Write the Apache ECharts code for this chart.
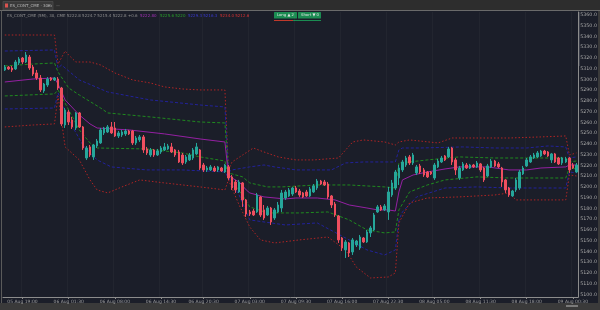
<!DOCTYPE html>
<html><head><meta charset="utf-8">
<script src="https://cdn.jsdelivr.net/npm/echarts@6/dist/echarts.min.js"></script>
<style>html,body{margin:0;padding:0;background:#1b1e29;}#c{width:600px;height:310px;}</style>
</head><body><div id="c"></div>
<script>
// ---- candle data (price) ----
const open = [5311.2,5313.9,5313.0,5312.1,5317.7,5322.3,5318.6,5323.2,5313.9,5308.4,5303.7,5291.7,5297.2,5303.7,5301.9,
5302.8,5294.4,5260.0,5272.1,5264.7,5257.2,5271.2,5258.2,5229.3,5239.6,5230.3,5240.5,5243.3,5252.6,5253.5,5258.2,5257.2,5249.8,5250.7,5251.7,5254.4,5254.4,5243.3,5246.1,5248.9,5237.7,5232.1,5236.8,5232.1,5234.9,5236.8,5237.7,5239.6,5236.8,5234.9,5232.1,5225.6,5227.5,5229.3,5233.1,5236.8,5222.8,5218.2,5218.2,5220.0,5218.2,5220.0,5216.3,
5221.0,5211.7,5207.0,5197.7,5206.1,5190.3,5179.1,5180.0,5179.1,5193.1,5181.0,5176.3,5182.8,5173.5,5179.1,5182.8,5192.1,5194.0,5195.8,5201.4,5198.6,5196.8,5197.7,5194.0,5197.7,5201.4,5207.9,5207.0,5205.1,5194.0,5186.5,5175.4,5154.9,5143.8,5150.3,5141.9,5148.4,5145.6,5154.9,5151.2,5159.6,5162.4,5179.1,5183.8,5181.0,5179.1,5194.9,5201.4,
5210.7,5218.2,5222.8,5230.3,5224.7,5215.4,5221.9,5218.2,5216.3,5216.3,5210.7,5221.0,5225.6,5231.2,5230.3,5238.6,5227.5,5210.7,5218.2,5222.8,5220.0,5222.8,5221.0,5223.8,5220.0,5212.6,5221.0,5226.5,5223.8,5220.0,5208.9,5201.4,5194.0,5199.6,5201.4,5214.5,5221.9,5225.6,5229.3,5230.3,5231.2,5235.8,5234.9,5227.5,5233.1,5229.3,5224.7,5225.6,
5229.3,5222.8,5216.3];
const close = [5313.9,5312.1,5311.2,5318.6,5321.4,5318.6,5325.1,5313.0,5307.4,5303.7,5292.6,5298.1,5302.8,5301.9,5303.7,
5294.4,5261.0,5274.0,5262.8,5258.2,5271.2,5258.2,5238.6,5238.6,5232.1,5241.4,5245.1,5255.4,5257.2,5258.2,5252.6,5249.8,5252.6,5253.5,5254.4,5251.7,5243.3,5247.9,5248.9,5236.8,5234.0,5236.8,5232.1,5235.8,5238.6,5239.6,5240.5,5234.9,5232.1,5225.6,5224.7,5230.3,5232.1,5236.8,5239.6,5220.0,5218.2,5220.0,5221.0,5217.2,5221.0,5217.2,5222.8,
5210.7,5201.4,5199.6,5207.0,5190.3,5177.2,5177.2,5176.3,5194.9,5176.3,5173.5,5182.8,5169.8,5181.0,5185.6,5196.8,5197.7,5199.6,5201.4,5197.7,5194.9,5193.1,5194.0,5200.5,5203.3,5207.9,5205.1,5204.2,5193.1,5185.6,5176.3,5153.1,5145.6,5151.2,5141.0,5153.1,5152.1,5155.8,5151.2,5160.5,5164.2,5176.3,5183.8,5181.0,5184.7,5197.7,5206.1,5216.3,
5220.0,5225.6,5229.3,5224.7,5232.1,5221.0,5216.3,5213.5,5211.7,5214.5,5222.8,5226.5,5229.3,5227.5,5237.7,5225.6,5218.2,5220.0,5223.8,5220.0,5222.8,5221.0,5224.7,5218.2,5208.9,5221.9,5226.5,5221.9,5221.0,5207.0,5199.6,5194.9,5198.6,5208.9,5216.3,5220.0,5227.5,5230.3,5232.1,5234.0,5235.8,5233.1,5231.2,5233.1,5225.6,5223.8,5229.3,5228.4,
5218.2,5220.0,5222.8];
const low = [5310.3,5311.2,5309.3,5311.2,5315.8,5316.7,5317.7,5311.2,5305.6,5301.9,5290.7,5289.8,5295.4,5300.9,5300.9,
5292.6,5259.1,5257.2,5260.0,5256.3,5255.4,5257.2,5236.8,5227.5,5230.3,5227.5,5238.6,5242.4,5250.7,5252.6,5251.7,5248.9,5247.9,5248.9,5249.8,5250.7,5241.4,5241.4,5244.2,5234.0,5232.1,5230.3,5230.3,5231.2,5233.1,5235.8,5236.8,5234.0,5230.3,5224.7,5222.8,5223.8,5226.5,5227.5,5232.1,5218.2,5216.3,5216.3,5217.2,5216.3,5216.3,5216.3,5215.4,
5208.9,5199.6,5196.8,5196.8,5183.8,5174.5,5175.4,5175.4,5178.2,5174.5,5171.7,5175.4,5167.0,5171.7,5178.2,5179.1,5190.3,5193.1,5194.0,5196.8,5193.1,5192.1,5193.1,5193.1,5196.8,5199.6,5204.2,5203.3,5191.2,5182.8,5174.5,5150.3,5142.8,5136.3,5137.2,5139.1,5146.5,5143.8,5150.3,5150.3,5155.8,5161.4,5178.2,5180.0,5180.0,5171.7,5193.1,5199.6,
5204.2,5216.3,5221.0,5222.8,5222.8,5213.5,5214.5,5211.7,5210.7,5213.5,5208.9,5220.0,5224.7,5226.5,5229.3,5222.8,5213.5,5208.9,5217.2,5219.1,5219.1,5220.0,5220.0,5216.3,5207.0,5211.7,5220.0,5221.0,5220.0,5202.4,5196.8,5193.1,5193.1,5197.7,5199.6,5213.5,5221.0,5224.7,5228.4,5229.3,5230.3,5232.1,5230.3,5224.7,5224.7,5222.8,5222.8,5224.7,
5215.4,5219.1,5215.4];
const high = [5315.8,5314.9,5314.9,5320.5,5323.2,5323.2,5327.9,5325.1,5315.8,5311.2,5306.5,5299.1,5304.6,5304.6,5304.6,
5304.6,5295.4,5275.8,5274.0,5267.5,5272.1,5272.1,5259.1,5240.5,5241.4,5242.4,5247.0,5257.2,5258.2,5260.0,5262.8,5262.8,5254.4,5255.4,5256.3,5255.4,5255.4,5249.8,5250.7,5250.7,5239.6,5238.6,5237.7,5237.7,5240.5,5243.3,5242.4,5243.3,5237.7,5236.8,5234.0,5232.1,5234.0,5238.6,5243.3,5237.7,5224.7,5221.9,5222.8,5221.9,5221.9,5221.0,5223.8,
5222.8,5213.5,5208.9,5208.9,5207.0,5191.2,5181.0,5181.9,5196.8,5194.0,5185.6,5184.7,5183.8,5182.8,5188.4,5199.6,5199.6,5201.4,5202.4,5203.3,5200.5,5197.7,5199.6,5202.4,5205.1,5209.8,5208.9,5208.9,5207.0,5194.9,5188.4,5176.3,5155.8,5153.1,5151.2,5154.9,5153.1,5157.7,5155.8,5162.4,5166.1,5178.2,5185.6,5185.6,5186.5,5202.4,5208.9,5218.2,
5222.8,5227.5,5231.2,5232.1,5234.0,5222.8,5223.8,5220.0,5217.2,5217.2,5224.7,5228.4,5231.2,5232.1,5239.6,5239.6,5229.3,5221.9,5225.6,5224.7,5223.8,5223.8,5226.5,5224.7,5221.0,5223.8,5228.4,5227.5,5225.6,5221.0,5209.8,5202.4,5199.6,5210.7,5218.2,5221.9,5229.3,5232.1,5234.0,5235.8,5236.8,5236.8,5235.8,5234.0,5234.0,5230.3,5230.3,5230.3,
5230.3,5224.7,5224.7];

// ---- session VWAP bands: [candle index, price] ----
const up3 = [[0,5343.7],[14,5343.7],
[15,5316.7],[17,5328.8],[18,5325.1],[20,5318.6],[24,5318.6],[27,5315.8],[31,5308.4],[36,5301.9],[41,5299.1],[45,5295.4],[50,5293.5],[55,5292.6],[62,5292.6],
[63,5218.2],[64,5225.6],[67,5232.1],[70,5238.6],[73,5234.9],[77,5230.3],[82,5227.5],[87,5227.5],[94,5229.3],[96,5236.8],[98,5244.2],[101,5246.1],[107,5244.2],[110,5241.4],
[111,5244.2],[114,5246.1],[122,5243.3],[126,5247.9],[133,5247.9],[142,5247.9],[151,5248.9],[158,5249.8],
[159,5232.1],[161,5234.0]];
const up2 = [[0,5328.8],[14,5329.8],
[15,5313.0],[16,5315.8],[21,5301.9],[29,5290.7],[41,5283.3],[55,5278.6],[62,5276.8],
[63,5216.3],[64,5218.2],[69,5221.0],[73,5222.8],[76,5221.0],[82,5218.2],[92,5218.2],[96,5224.7],[101,5225.6],[110,5225.6],
[111,5236.8],[112,5238.6],[117,5238.6],[129,5239.6],[138,5238.6],[147,5238.6],[153,5240.5],[158,5239.6],
[159,5229.3],[161,5230.3]];
const up1 = [[0,5314.9],[8,5316.7],[14,5317.7],
[15,5309.3],[18,5294.4],[21,5287.9],[27,5275.8],[29,5271.2],[41,5267.5],[55,5262.8],[62,5261.9],
[63,5215.4],[67,5211.7],[69,5206.1],[74,5202.4],[78,5202.4],[88,5204.2],[97,5204.2],[107,5202.4],[110,5201.4],
[111,5224.7],[114,5225.6],[119,5227.5],[128,5230.3],[138,5229.3],[147,5229.3],[158,5229.3],
[159,5225.6],[161,5226.5]];
const vwap = [[0,5300.0],[8,5302.8],[14,5303.7],
[15,5298.1],[17,5283.3],[21,5269.3],[24,5261.0],[26,5257.2],[35,5255.4],[45,5251.7],[55,5247.0],[62,5244.2],
[63,5213.5],[64,5210.7],[66,5207.0],[68,5199.6],[69,5196.8],[73,5193.1],[79,5191.2],[82,5192.1],[88,5192.1],[93,5190.3],[97,5185.6],[102,5182.8],[105,5181.0],[108,5181.0],[110,5180.0],
[111,5197.7],[112,5208.9],[115,5213.5],[119,5216.3],[124,5219.1],[128,5221.0],[136,5221.0],[142,5218.2],[147,5218.2],[151,5220.0],[158,5221.0],
[159,5222.8],[161,5222.8]];
const dn1 = [[0,5287.0],[14,5288.9],
[15,5292.6],[18,5274.0],[21,5255.4],[24,5243.3],[26,5238.6],[40,5237.7],[50,5234.0],[55,5230.3],[62,5226.5],
[63,5211.7],[66,5199.6],[69,5183.8],[74,5178.2],[83,5178.2],[91,5179.1],[97,5171.7],[102,5162.4],[107,5159.6],[110,5160.5],
[111,5181.0],[114,5197.7],[119,5204.2],[124,5208.9],[133,5211.7],[142,5210.7],[158,5210.7],
[159,5220.0],[161,5219.1]];
const dn2 = [[0,5274.9],[14,5275.8],
[15,5289.8],[18,5264.7],[22,5241.4],[26,5227.5],[30,5221.0],[40,5218.2],[50,5218.2],[62,5216.3],
[63,5210.7],[66,5194.9],[69,5171.7],[79,5167.0],[88,5168.9],[97,5153.1],[102,5143.8],[107,5139.1],[110,5143.8],
[111,5171.7],[112,5179.1],[116,5193.1],[124,5201.4],[133,5202.4],[142,5201.4],[158,5201.4],
[159,5216.3],[161,5215.4]];
const dn3 = [[0,5258.2],[8,5260.0],[14,5261.0],
[15,5287.0],[17,5239.6],[21,5227.5],[24,5208.9],[26,5199.6],[29,5196.8],[33,5202.4],[38,5208.9],[45,5206.1],[55,5202.4],[62,5199.6],
[63,5208.9],[66,5185.6],[69,5165.1],[72,5153.1],[76,5150.3],[83,5153.1],[91,5155.8],[96,5143.8],[99,5127.9],[103,5117.7],[108,5118.6],[110,5122.4],
[111,5168.9],[114,5187.5],[119,5192.1],[128,5193.1],[138,5194.9],[142,5196.8],[144,5190.3],[148,5190.3],[156,5190.3],[158,5190.3],
[159,5213.5],[161,5212.6]];

// ---- axis ----
const firstBar = Date.UTC(2024, 7, 5, 16, 30);
const barMinutes = 30;
const xTickIdx = [5,18,31,44,56,69,82,95,108,121,134,147,160];
const yMin = 5100, yMax = 5365.1, yStep = 10;

const MON = ['Jan','Feb','Mar','Apr','May','Jun','Jul','Aug','Sep','Oct','Nov','Dec'];
const pad = n => (n < 10 ? '0' : '') + n;
const times = open.map((_, i) => {
  const d = new Date(firstBar + i * barMinutes * 60000);
  return pad(d.getUTCDate()) + ' ' + MON[d.getUTCMonth()] + ' ' + pad(d.getUTCHours()) + ':' + pad(d.getUTCMinutes());
});
const candles = open.map((o, i) => [o, close[i], low[i], high[i]]);
const showTick = i => xTickIdx.indexOf(i) >= 0;

const chart = echarts.init(document.getElementById('c'), null, {renderer: 'canvas'});
const band = (name, data, color, dash, width) => ({
  name, type: 'line', data, showSymbol: false, symbol: 'none', z: 2, silent: true,
  lineStyle: {color, width: width || 1, type: dash}
});
const txt = (x, y, text, fill, size, extra) => Object.assign({type: 'text', x, y, silent: true,
  style: {text, fill, font: (size || 4.5) + 'px "DejaVu Sans", sans-serif', textVerticalAlign: 'middle'}}, extra || {});

chart.setOption({
  animation: false,
  backgroundColor: '#1b1e29',
  grid: {left: 3, right: 17, top: 12, bottom: 13},
  xAxis: {
    type: 'category', data: times, boundaryGap: true,
    axisLine: {lineStyle: {color: '#8c8c8c', width: 1}},
    axisTick: {show: true, interval: i => showTick(i), alignWithLabel: true, length: 2, lineStyle: {color: '#8c8c8c'}},
    axisLabel: {interval: i => showTick(i), color: '#9c9c9c', fontSize: 4.5, margin: 2, fontFamily: 'DejaVu Sans'},
    splitLine: {show: true, interval: i => showTick(i), lineStyle: {color: 'rgba(255,255,255,0.03)'}}
  },
  yAxis: {
    type: 'value', position: 'right', min: yMin, max: yMax, interval: yStep, scale: true,
    axisLine: {show: true, lineStyle: {color: '#8c8c8c'}},
    axisTick: {show: false},
    splitLine: {show: false},
    axisLabel: {color: '#a8a8a8', fontSize: 4.8, margin: 2, verticalAlign: 'bottom', showMaxLabel: false,
      fontFamily: 'DejaVu Sans', formatter: v => v.toFixed(1)}
  },
  series: [
    band('Upper 3', up3, '#b02424', [1.5, 2]),
    band('Upper 2', up2, '#22229a', [3, 2]),
    band('Upper 1', up1, '#1f8a1f', [3, 2]),
    band('VWAP', vwap, '#9420a2', 'solid'),
    band('Lower 1', dn1, '#1f8a1f', [3, 2]),
    band('Lower 2', dn2, '#22229a', [3, 2]),
    band('Lower 3', dn3, '#b02424', [1.5, 2]),
    {name: 'Price', type: 'candlestick', data: candles, barWidth: 2, z: 3,
      itemStyle: {color: '#26a69a', color0: '#ef4f5f', borderColor: '#26a69a', borderColor0: '#ef4f5f', borderWidth: 1}}
  ],
  graphic: [
    {type: 'rect', shape: {x: 0, y: 0, width: 600, height: 10.5}, style: {fill: '#2d2d2d'}, silent: true},
    {type: 'rect', shape: {x: 3, y: 1.5, width: 50, height: 8.5}, style: {fill: '#3a3a3a', stroke: '#555', lineWidth: 0.6}, silent: true},
    {type: 'rect', shape: {x: 5, y: 3.5, width: 3, height: 4}, style: {fill: '#d9534f'}, silent: true},
    txt(10, 5.8, 'ES_CONT_CME · 30m', '#b8b8b8', 4),
    txt(47, 5.8, '×', '#aaaaaa', 5),
    txt(56, 5.5, '—', '#888888', 4),
    {type: 'line', shape: {x1: 0, y1: 10.5, x2: 600, y2: 10.5}, style: {stroke: '#6a6a6a', lineWidth: 1}, silent: true},
    {type: 'line', shape: {x1: 1.5, y1: 10.5, x2: 1.5, y2: 303}, style: {stroke: '#5a5a5a', lineWidth: 1}, silent: true},
    {type: 'rect', shape: {x: 598, y: 11, width: 2, height: 292}, style: {fill: '#3a3a3a'}, silent: true},
    {type: 'rect', shape: {x: 0, y: 303, width: 600, height: 7}, style: {fill: '#3a3a3a'}, silent: true},
    {type: 'rect', shape: {x: 566, y: 305, width: 12, height: 2}, style: {fill: '#7a7a7a'}, silent: true},
    txt(7, 15.8, 'ES_CONT_CME (5M), 30, CME 5222.8 5224.7 5215.4 5222.8 +0.6', '#8e8e8e', 4),
    txt(140, 15.8, '5222.80', '#a232b4', 4),
    txt(160, 15.8, '5225.6 5220', '#2aa02a', 4),
    txt(188, 15.8, '5229.3 5216.3', '#3a3ad0', 4),
    txt(220, 15.8, '5234.0 5212.6', '#d83232', 4),
    {type: 'rect', shape: {x: 274, y: 12, width: 23, height: 6.5, r: 0.5}, style: {fill: '#1b8c52'}, silent: true},
    {type: 'rect', shape: {x: 298, y: 12, width: 23, height: 6.5, r: 0.5}, style: {fill: '#1b8c52'}, silent: true},
    txt(277, 15.3, 'Long ▲ 2', '#e8e8e8', 3.8),
    txt(301, 15.3, 'Short ▼ 0', '#e8e8e8', 3.8),
    {type: 'line', shape: {x1: 274, y1: 20.5, x2: 293, y2: 20.5}, style: {stroke: '#c0392b', lineWidth: 1}, silent: true},
    {type: 'line', shape: {x1: 293, y1: 20.5, x2: 321, y2: 20.5}, style: {stroke: '#1b8c52', lineWidth: 1}, silent: true},
    {type: 'line', shape: {x1: 579.5, y1: 12, x2: 579.5, y2: 66}, style: {stroke: '#3c3f4a', lineWidth: 1}, silent: true},
    txt(576, 40, '20%', '#999999', 4, {rotation: Math.PI / 2, originX: 576, originY: 40})
  ]
});
</script>
</body></html>
